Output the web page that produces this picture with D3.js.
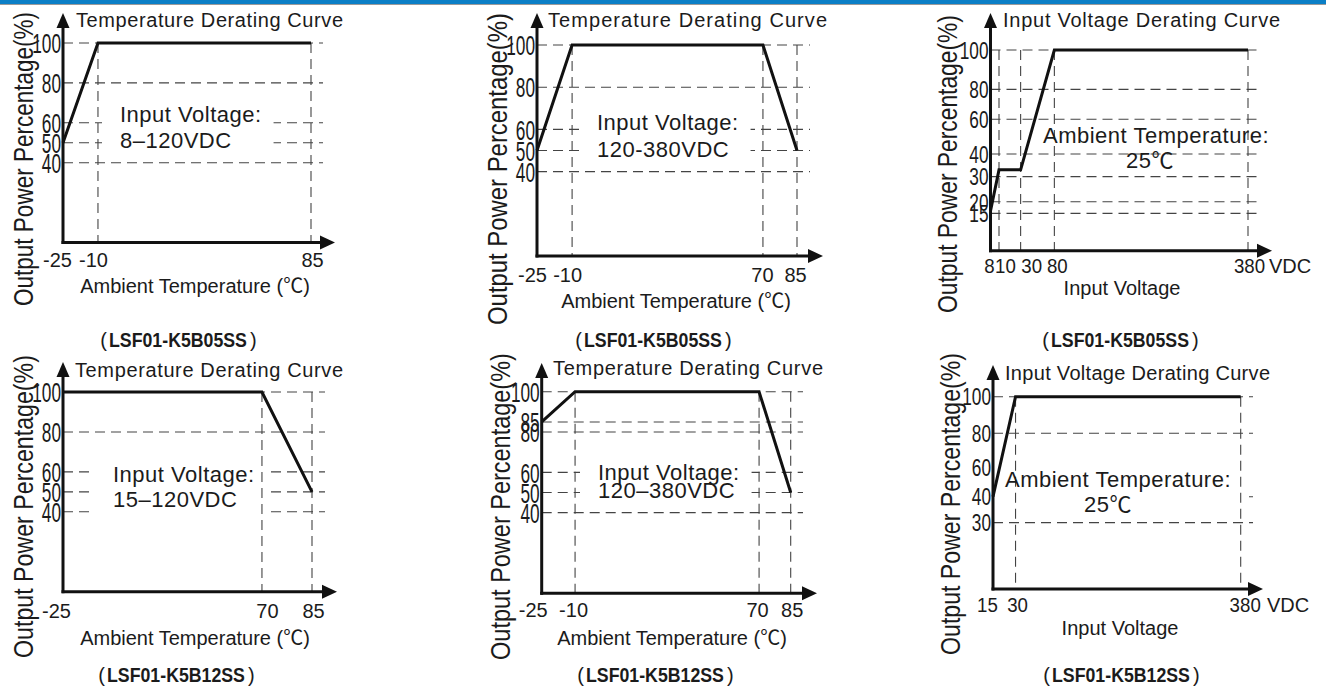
<!DOCTYPE html>
<html>
<head>
<meta charset="utf-8">
<script src="https://cdn.jsdelivr.net/npm/d3@7"></script>
<style>
body{margin:0;background:#fff;}
svg{display:block;}
text{fill:#1b1b1b;font-family:"Liberation Sans",Arial,"Noto Sans CJK SC",sans-serif;}
</style>
</head>
<body>
<svg width="1326" height="686"></svg>
<script>
// ---- values ----
var titles=["Temperature Derating Curve","Temperature Derating Curve","Input Voltage Derating Curve",
            "Temperature Derating Curve","Temperature Derating Curve","Input Voltage Derating Curve"];
var models=["LSF01-K5B05SS","LSF01-K5B05SS","LSF01-K5B05SS","LSF01-K5B12SS","LSF01-K5B12SS","LSF01-K5B12SS"];
var xNames=["Ambient Temperature (℃)","Ambient Temperature (℃)","Input Voltage",
            "Ambient Temperature (℃)","Ambient Temperature (℃)","Input Voltage"];
var yName="Output Power Percentage(%)";
var notes=[["Input Voltage:","8–120VDC"],["Input Voltage:","120-380VDC"],["Ambient Temperature:","25℃"],
           ["Input Voltage:","15–120VDC"],["Input Voltage:","120–380VDC"],["Ambient Temperature:","25℃"]];

var ticksX1=[-25,-10,85];
var ticksY1=[40,50,60,80,100];
var curve1=[[-25,50],[-10,100],[85,100]];

var ticksX2=[-25,-10,70,85];
var ticksY2=[40,50,60,80,100];
var curve2=[[-25,50],[-10,100],[70,100],[85,50]];

var ticksX3=[8,10,30,80,380];
var ticksY3=[15,20,30,40,60,80,100];
var curve3=[[8,16],[10,33],[30,33],[80,100],[380,100]];

var ticksX4=[-25,70,85];
var ticksY4=[40,50,60,80,100];
var curve4=[[-25,100],[70,100],[85,50]];

var ticksX5=[-25,-10,70,85];
var ticksY5=[40,50,60,80,85,100];
var curve5=[[-25,85],[-10,100],[70,100],[85,50]];

var ticksX6=[15,30,380];
var ticksY6=[30,40,60,80,100];
var gridY6=[30,40,80,100];
var curve6=[[15,40],[30,100],[380,100]];

// ---- layout (pixels) ----
var layout=[
  {ox:63,oy:242.5,w:248,h:199.5,xFrac:[0,0.141,1],tipX:335,tipY:13,gridEnd:323,
   title:[76,27,267],yLab:[33,159,294],tickY:267,xDx:[-6,-5,1],xLab:[195,293],
   note:[[120,122,"start"],[120,148,"start"]],bg:true,model:[178,347],yFont:27,xFont:20},
  {ox:537,oy:256,w:260,h:211,xFrac:[0,0.135,0.869,1],tipX:823,tipY:13,gridEnd:810,
   title:[548,27,279],yLab:[507,169,312],tickY:282,xDx:[-5,-5,-1,-2],xLab:[676,308],
   note:[[597,130,"start"],[597,157,"start"]],bg:true,model:[653,347],yFont:27,xFont:20},
  {ox:990.5,oy:250.7,w:257.5,h:200.7,xFrac:[0,0.033,0.117,0.248,1],
   yFrac:[0.186,0.244,0.369,0.482,0.655,0.804,1],tipX:1272,tipY:13,gridEnd:1258,
   title:[1003,27,277],yLab:[957,164,298],tickY:273,xDx:[-1.5,6,10.5,2.5,1],xLab:[1122,295],
   note:[[1043,143,"start"],[1150,168,"middle"]],bg:false,model:[1120,347],yFont:23,xFont:21,
   unit:[1269,"VDC"]},
  {ox:63,oy:591.7,w:249,h:199.7,xFrac:[0,0.799,1],tipX:337,tipY:362,gridEnd:325,
   title:[75,377,268],yLab:[33,506.5,303],tickY:618,xDx:[-7,5,1],xLab:[195,645],
   note:[[113,482,"start"],[113,507,"start"]],bg:true,model:[176,682],yFont:27,xFont:20},
  {ox:541.7,oy:593.3,w:249,h:201.6,xFrac:[0,0.134,0.873,1],tipX:817,tipY:363,gridEnd:803,
   title:[553,375,270],yLab:[510,506.5,307],tickY:617,xDx:[-9,-2,-2,1],xLab:[672,645],
   note:[[598,480,"start"],[598,498,"start"]],bg:true,model:[655,682],yFont:27,xFont:20},
  {ox:993,oy:589,w:247.7,h:192.3,xFrac:[0,0.091,1],yFrac:[0.345,0.48,0.634,0.81,1],
   tipX:1263,tipY:365,gridEnd:1253,
   title:[1005,380,265],yLab:[960,504,302],tickY:612,xDx:[-6,1.5,4],xLab:[1120,635],
   note:[[1005,487,"start"],[1108,512,"middle"]],bg:true,model:[1121,682],yFont:23,xFont:21,
   unit:[1267,"VDC"]}
];

var xTickSets=[ticksX1,ticksX2,ticksX3,ticksX4,ticksX5,ticksX6];
var yTickSets=[ticksY1,ticksY2,ticksY3,ticksY4,ticksY5,ticksY6];
var gridSets=[ticksY1,ticksY2,ticksY3,ticksY4,ticksY5,gridY6];
var curves=[curve1,curve2,curve3,curve4,curve5,curve6];

var svg=d3.select("svg");

// header strip
svg.append("rect").attr("x",0).attr("y",0).attr("width",1326).attr("height",4).attr("fill","#0b7fc6");
svg.append("rect").attr("x",0).attr("y",4).attr("width",1326).attr("height",1).attr("fill","#9a9a9a");

var plainNumber=function(d){return String(d);};

// narrow a text horizontally around its anchor point (condensed look of the original)
var squeeze=function(node,target,pre){
  var n=node.getComputedTextLength();
  var s=Math.min(1,target/n);
  var ax=+node.getAttribute("x")||0, ay=+node.getAttribute("y")||0;
  d3.select(node).attr("transform",(pre||"")+"translate("+ax+","+ay+") scale("+s+",1) translate("+(-ax)+","+(-ay)+")");
};

var drawPanel=function(p,i){
  var xt=xTickSets[i], yt=yTickSets[i];
  var x=d3.scaleLinear()
    .domain(xt)
    .range(p.xFrac.map(function(f){return p.ox+f*p.w;}));
  var y;
  if(p.yFrac){
    y=d3.scaleLinear()
      .domain([0].concat(yt))
      .range([p.oy].concat(p.yFrac.map(function(f){return p.oy-f*p.h;})));
  }else{
    y=d3.scaleLinear().domain([0,100]).range([p.oy,p.oy-p.h]);
  }

  var g=svg.append("g").attr("class","panel");
  var gridH=g.append("g"), bg=g.append("g"), gridV=g.append("g"),
      marks=g.append("g"), labels=g.append("g");

  gridH.selectAll("line").data(gridSets[i]).enter().append("line")
    .attr("x1",p.ox).attr("x2",p.gridEnd)
    .attr("y1",function(d){return y(d);}).attr("y2",function(d){return y(d);})
    .attr("stroke","#444").attr("stroke-width",1.1).attr("stroke-dasharray","10,6");

  gridV.selectAll("line").data(xt.slice(1)).enter().append("line")
    .attr("x1",function(d){return x(d);}).attr("x2",function(d){return x(d);})
    .attr("y1",y(100)).attr("y2",p.oy)
    .attr("stroke","#444").attr("stroke-width",1.1).attr("stroke-dasharray","10,6");

  // axes with arrow heads
  marks.append("line").attr("x1",p.ox).attr("x2",p.ox).attr("y1",p.oy+1.5).attr("y2",p.tipY+12)
    .attr("stroke","#111").attr("stroke-width",3);
  marks.append("line").attr("x1",p.ox-1.5).attr("x2",p.tipX-12).attr("y1",p.oy).attr("y2",p.oy)
    .attr("stroke","#111").attr("stroke-width",3);
  marks.append("path")
    .attr("d","M"+p.ox+","+p.tipY+"L"+(p.ox-6.5)+","+(p.tipY+15)+"L"+(p.ox+6.5)+","+(p.tipY+15)+"Z")
    .attr("fill","#111");
  marks.append("path")
    .attr("d","M"+p.tipX+","+p.oy+"L"+(p.tipX-15)+","+(p.oy-7)+"L"+(p.tipX-15)+","+(p.oy+7)+"Z")
    .attr("fill","#111");

  var line=d3.line().x(function(d){return x(d[0]);}).y(function(d){return y(d[1]);});
  marks.append("path").datum(curves[i]).attr("d",line)
    .attr("fill","none").attr("stroke","#111").attr("stroke-width",3).attr("stroke-linejoin","miter");

  // tick labels through d3 axes
  var yAxis=d3.axisLeft(y).tickValues(yt).tickSize(0).tickPadding(2).tickFormat(plainNumber);
  var yg=labels.append("g").attr("transform","translate("+p.ox+",0)").call(yAxis);
  yg.select(".domain").remove();
  yg.selectAll("text")
    .attr("fill","#1b1b1b")
    .style("font-family",'"Liberation Sans",Arial,sans-serif')
    .style("font-size",p.yFont+"px")
    .attr("dy","0.36em")
    .each(function(d){squeeze(this,String(d).length*9.6);});

  var xAxis=d3.axisBottom(x).tickValues(xt).tickSize(0).tickFormat(plainNumber);
  var xg=labels.append("g").attr("transform","translate(0,"+p.oy+")").call(xAxis);
  xg.select(".domain").remove();
  var narrowX=p.yFrac?true:false;
  xg.selectAll("text")
    .attr("fill","#1b1b1b")
    .style("font-family",'"Liberation Sans",Arial,sans-serif')
    .style("font-size",p.xFont+"px")
    .attr("y",p.tickY-p.oy).attr("dy",0)
    .attr("x",function(d,k){return p.xDx[k];})
    .each(function(d){ if(narrowX) squeeze(this,String(d).length*10.4); });

  if(p.unit){
    labels.append("text").attr("x",p.unit[0]).attr("y",p.tickY)
      .style("font-size","20px").text(p.unit[1]);
  }

  // titles and names
  labels.append("text").attr("x",p.title[0]).attr("y",p.title[1])
    .style("font-size","20px").attr("textLength",p.title[2]).attr("lengthAdjust","spacing")
    .text(titles[i]);
  var yl=labels.append("text").attr("x",0).attr("y",0)
    .attr("text-anchor","middle").style("font-size","27px")
    .text(yName);
  squeeze(yl.node(),p.yLab[2],"translate("+p.yLab[0]+","+p.yLab[1]+") rotate(-90) ");
  labels.append("text").attr("x",p.xLab[0]).attr("y",p.xLab[1])
    .attr("text-anchor","middle").style("font-size","20px")
    .text(xNames[i]);

  // model name with its brackets
  var m=labels.append("g").style("font-size","20px");
  var mt=m.append("text").attr("x",p.model[0]).attr("y",p.model[1])
    .attr("text-anchor","middle").style("font-weight","bold")
    .text(models[i]);
  squeeze(mt.node(),138);
  m.append("text").attr("x",p.model[0]-71).attr("y",p.model[1])
    .attr("text-anchor","end").text("(");
  m.append("text").attr("x",p.model[0]+72).attr("y",p.model[1])
    .attr("text-anchor","start").text(")");

  // note inside the plot
  var noteG=labels.append("g");
  noteG.selectAll("text").data(notes[i]).enter().append("text")
    .attr("x",function(d,k){return p.note[k][0];})
    .attr("y",function(d,k){return p.note[k][1];})
    .attr("text-anchor",function(d,k){return p.note[k][2];})
    .style("font-size","22px").style("letter-spacing","0.5px")
    .text(function(d){return d;});
  if(p.bg){
    var b=noteG.node().getBBox();
    bg.append("rect").attr("x",b.x-18).attr("y",b.y-2).attr("width",b.width+30).attr("height",b.height+4)
      .attr("fill","#fff");
  }
};

layout.forEach(drawPanel);
</script>
</body>
</html>
